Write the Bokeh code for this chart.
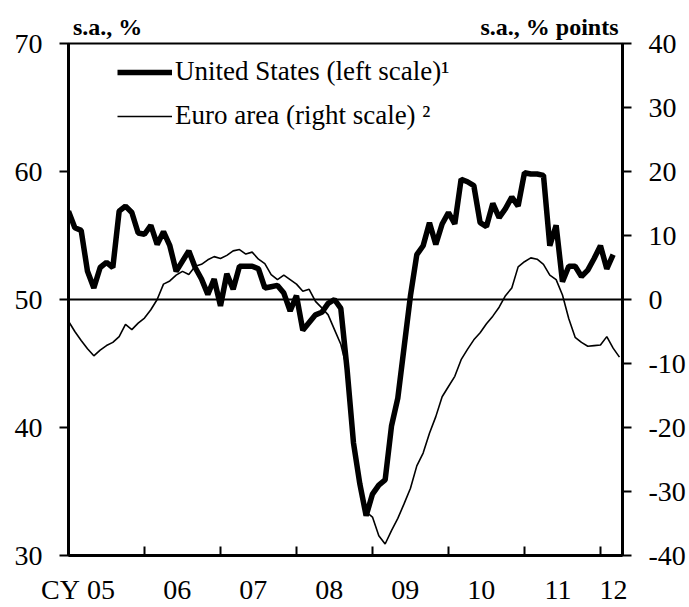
from bokeh.plotting import figure
from bokeh.models import Range1d, LinearAxis, FixedTicker, Span, Legend, LegendItem
from bokeh.embed import file_html
from bokeh.resources import INLINE

# ---- data (monthly, Jan 2005 onward) ----
us_pmi = [
    56.9, 55.6, 55.4, 52.2, 50.9, 52.5, 52.9, 52.5, 56.9, 57.3, 56.8, 55.2,   # 2005
    55.1, 55.8, 54.3, 55.3, 54.2, 52.2, 53.0, 53.8, 52.5, 51.6, 50.4, 51.6,   # 2006
    49.5, 52.0, 50.8, 52.6, 52.6, 52.6, 52.4, 50.9, 51.0, 51.1, 50.5, 49.1,   # 2007
    50.3, 47.6, 48.2, 48.8, 49.0, 49.7, 50.0, 49.3, 44.5, 38.8, 35.6, 33.1,   # 2008
    34.8, 35.5, 35.9, 40.1, 42.3, 46.3, 50.3, 53.5, 54.2, 56.0, 54.3, 55.9,   # 2009
    56.8, 55.9, 59.4, 59.2, 58.9, 56.0, 55.7, 57.5, 56.4, 57.1, 58.0, 57.3,   # 2010
    59.9, 59.8, 59.8, 59.7, 54.2, 55.8, 51.4, 52.6, 52.6, 51.8, 52.3, 53.2,   # 2011
    54.2, 52.4, 53.5,                                                         # 2012
]
euro_conf = [
    -3.4, -5.0, -6.4, -7.7, -8.8, -7.9, -7.2, -6.7, -5.8, -3.9, -4.7, -3.7,   # 2005
    -2.9, -1.6, 0.0, 2.4, 2.9, 3.8, 4.4, 3.9, 5.2, 5.5, 6.2, 6.7,             # 2006
    6.4, 6.9, 7.6, 7.8, 7.1, 7.4, 6.3, 5.6, 3.9, 3.1, 3.8, 3.1,               # 2007
    2.4, 1.3, 1.6, -0.3, -1.3, -2.4, -4.7, -7.0, -11.0, -22.0, -28.5, -33.2,  # 2008
    -34.0, -36.9, -38.2, -36.1, -34.2, -31.9, -29.5, -26.0, -24.0, -20.9, -18.3, -15.2,  # 2009
    -13.6, -12.0, -9.4, -7.8, -6.3, -5.2, -3.8, -2.6, -1.2, 0.6, 1.8, 5.1,   # 2010
    5.9, 6.5, 6.3, 5.5, 3.8, 3.1, 0.7, -3.0, -5.9, -6.7, -7.3, -7.2,          # 2011
    -7.1, -5.8, -7.6, -9.0,                                                   # 2012
]
start_year = 2005
us_months = [start_year + i / 12 for i in range(len(us_pmi))]
euro_months = [start_year + i / 12 for i in range(len(euro_conf))]

year_labels = ["CY\u00a005", "06", "07", "08", "09", "10", "11", "12"]
year_label_pos = [2005.125, 2006.43, 2007.43, 2008.43, 2009.43, 2010.43, 2011.44, 2012.17]
year_bounds = [2006, 2007, 2008, 2009, 2010, 2011, 2012]
left_ticks = [30, 40, 50, 60, 70]
right_ticks = [-40, -30, -20, -10, 0, 10, 20, 30, 40]
right_tick_labels = ["-40", "-30", "-20", "-10", "0", "10", "20", "30", "40"]
unit_labels = ["s.a., %", "s.a., % points"]
unit_label_pos = [2005.515, 2011.33]

FONT = "Liberation Serif"

p = figure(width=689, height=607, output_backend="svg", toolbar_location=None,
           x_range=Range1d(2005, 2012.29), y_range=Range1d(30, 70),
           min_border_left=68, min_border_right=67, min_border_top=43, min_border_bottom=51,
           x_axis_type=None, y_axis_type=None)
p.extra_y_ranges = {"right": Range1d(-40, 40)}
p.xgrid.visible = False
p.ygrid.visible = False
p.outline_line_color = "black"
p.outline_line_width = 2
p.background_fill_color = "white"
p.border_fill_color = "white"

def style_axis(ax, size="28px"):
    ax.axis_line_width = 3
    ax.axis_line_color = "black"
    ax.major_label_text_font = FONT
    ax.major_label_text_font_size = size
    ax.major_label_text_color = "black"
    ax.major_tick_line_width = 2
    ax.minor_tick_line_width = 2

left = LinearAxis(ticker=FixedTicker(ticks=left_ticks))
style_axis(left)
left.major_tick_out = 9
left.major_tick_in = 0
left.minor_tick_out = 0
left.major_label_standoff = 17
p.add_layout(left, "left")

right = LinearAxis(y_range_name="right", ticker=FixedTicker(ticks=right_ticks))
style_axis(right)
right.major_tick_out = 9
right.major_tick_in = 0
right.minor_tick_out = 0
right.major_label_standoff = 17
right.major_label_overrides = {t: s for t, s in zip(right_ticks, right_tick_labels)}
p.add_layout(right, "right")

bottom = LinearAxis(ticker=FixedTicker(ticks=year_label_pos, minor_ticks=year_bounds))
style_axis(bottom)
bottom.major_tick_in = 0
bottom.major_tick_out = 0
bottom.minor_tick_in = 9
bottom.minor_tick_out = 0
bottom.major_label_standoff = 18
bottom.major_label_overrides = {pos: lab for pos, lab in zip(year_label_pos, year_labels)}
p.add_layout(bottom, "below")

top = LinearAxis(ticker=FixedTicker(ticks=unit_label_pos))
style_axis(top, "24px")
top.axis_line_color = None
top.major_tick_line_color = None
top.minor_tick_line_color = None
top.major_label_text_font_style = "bold"
top.major_label_standoff = -2
top.major_label_overrides = {pos: lab for pos, lab in zip(unit_label_pos, unit_labels)}
p.add_layout(top, "above")

p.add_layout(Span(location=50, dimension="width", line_color="black", line_width=2))

r_euro = p.line(euro_months, euro_conf, y_range_name="right", line_color="black", line_width=1.6)
r_us = p.line(us_months, us_pmi, line_color="black", line_width=5.5)

legend = Legend(items=[LegendItem(label="United States (left scale)\u00b9", renderers=[r_us]),
                       LegendItem(label="Euro area (right scale) \u00b2", renderers=[r_euro])],
                location=(49, 424), orientation="vertical",
                background_fill_alpha=0, border_line_alpha=0,
                label_text_font=FONT, label_text_font_size="27px", label_text_color="black",
                glyph_width=55, glyph_height=30, label_height=30,
                label_standoff=3, spacing=13, padding=0, margin=0)
p.add_layout(legend)

open("out.html", "w").write(file_html(p, INLINE))
